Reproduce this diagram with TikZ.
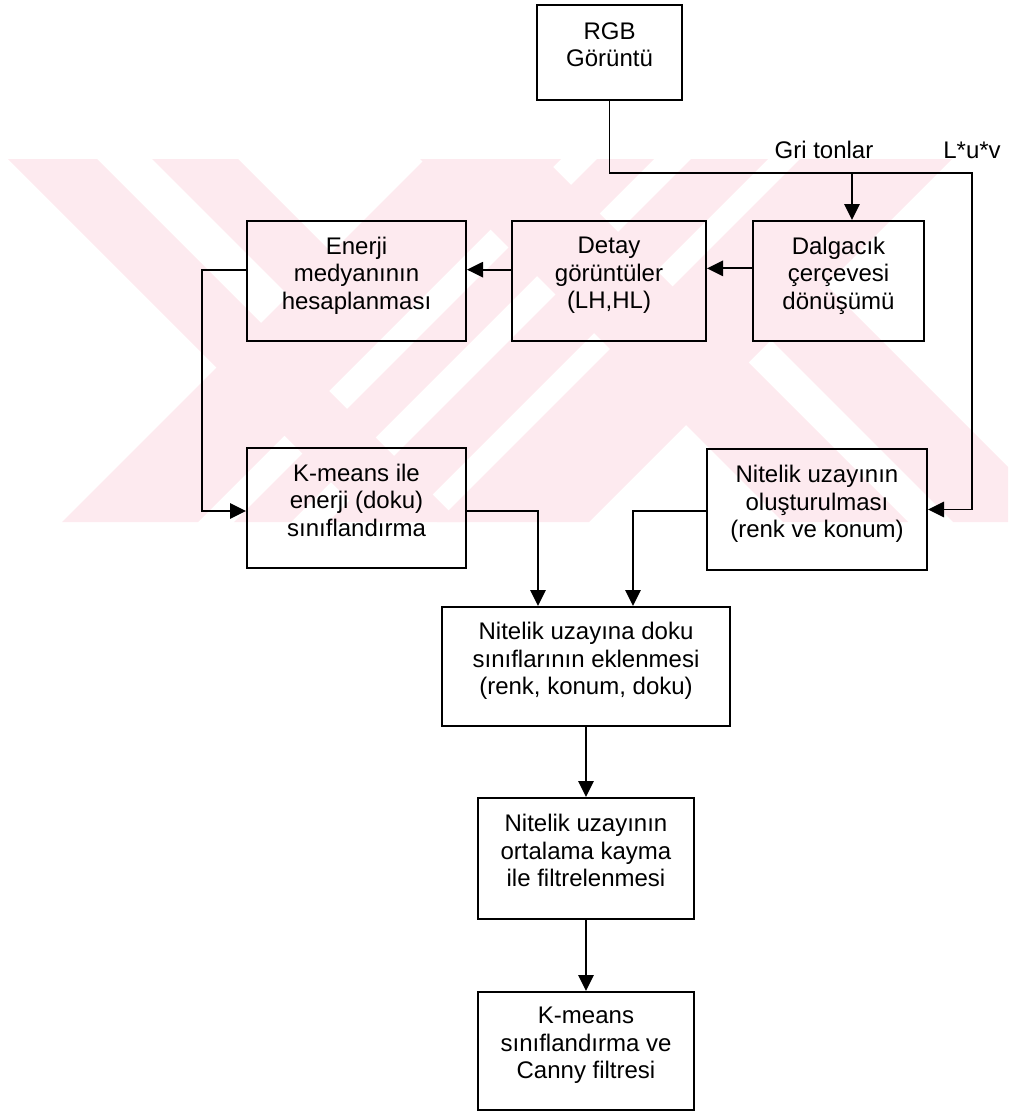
\documentclass[tikz,border=0pt]{standalone}
\usepackage{fontspec}
\setmainfont{Liberation Sans}
\usetikzlibrary{arrows.meta,calc}
\definecolor{wmpink}{RGB}{253,234,239}
\begin{document}
\begin{tikzpicture}[x=0.75pt,y=-0.75pt,
  txt/.style={font=\fontsize{18}{20.6}\selectfont},
  box/.style={txt, draw, line width=1.5pt, align=center, inner sep=0pt, text depth=12pt},
  link/.style={line width=1.4pt},
  arr/.style={link, -{Triangle[length=12pt,width=11.5pt]}},
  lbl/.style={txt, inner sep=0pt}]
\useasboundingbox (0,0) rectangle (1008,1113);

% light striped background band
\begin{scope}
  \clip (0,159) rectangle (1008,522);
  \fill[wmpink] (8,159) -- (97,159) -- (460,522) -- (371,522) -- cycle;
  \fill[wmpink] (152,159) -- (238,159) -- (335,256) -- (292,299) -- cycle;
  \fill[wmpink] (425,159) -- (561,159) -- (198,522) -- (62,522) -- cycle;
  \fill[wmpink] (597,159) -- (654,159) -- (291,522) -- (234,522) -- cycle;
  \fill[wmpink] (691,159) -- (768,159) -- (405,522) -- (328,522) -- cycle;
  \fill[wmpink] (800,159) -- (952,159) -- (589,522) -- (437,522) -- cycle;
  \fill[wmpink] (420,159) -- (545,159) -- (908,522) -- (783,522) -- cycle;
  \fill[wmpink] (767.5,336.5) -- (822.5,281.5) -- (1063,522) -- (953,522) -- cycle;
\end{scope}

% process boxes
\node[box, minimum width=108.75pt, minimum height=71.25pt] (rgb) at (609.5,52.5) {RGB\\Görüntü};
\node[box, minimum width=164.25pt, minimum height=90pt] (enerji) at (356.5,281) {Enerji\\medyanının\\hesaplanması};
\node[box, minimum width=145.5pt, minimum height=90pt] (detay) at (609,281) {Detay\\görüntüler\\(LH,HL)};
\node[box, minimum width=128.25pt, minimum height=90pt] (dalga) at (838.5,281) {Dalgacık\\çerçevesi\\dönüşümü};
\node[box, minimum width=164.25pt, minimum height=90pt] (kmeans) at (356.5,508) {K-means ile\\enerji (doku)\\sınıflandırma};
\node[box, minimum width=165pt, minimum height=90.75pt] (nitelik) at (817,509.5) {Nitelik uzayının\\oluşturulması\\(renk ve konum)};
\node[box, minimum width=216pt, minimum height=89.25pt] (ekle) at (586,666.5) {Nitelik uzayına doku\\sınıflarının eklenmesi\\(renk, konum, doku)};
\node[box, minimum width=162pt, minimum height=90.75pt] (filtre) at (586,858.5) {Nitelik uzayının\\ortalama kayma\\ile filtrelenmesi};
\node[box, minimum width=162pt, minimum height=88.5pt] (son) at (586,1051) {K-means\\sınıflandırma ve\\Canny filtresi};

% branch labels
\node[lbl] (gri) at (824,150) {Gri tonlar};
\node[lbl] (luv) at (972,150) {L*u*v};

% routing points
\coordinate (grijoin) at (852,173);
\coordinate (luvturn) at (972,173);
\coordinate (leftrail) at (202,511);
\coordinate (dropL) at (538,511);
\coordinate (dropR) at (633,511);

% connectors
\draw[arr] (rgb.south) |- (luvturn) |- (nitelik.east);
\draw[arr] (grijoin) -- (grijoin |- dalga.north);
\draw[arr] ([yshift=9.5pt]dalga.west) -- ([yshift=9.5pt]detay.east);
\draw[arr] ([yshift=8.5pt]detay.west) -- ([yshift=8.5pt]enerji.east);
\draw[arr] ([yshift=8.5pt]enerji.west) -| (leftrail) -- (kmeans.west |- leftrail);
\draw[arr] (kmeans.east |- dropL) -- (dropL) -- (dropL |- ekle.north);
\draw[arr] (nitelik.west |- dropR) -- (dropR) -- (dropR |- ekle.north);
\draw[arr] (ekle) -- (filtre);
\draw[arr] (filtre) -- (son);
\end{tikzpicture}
\end{document}
